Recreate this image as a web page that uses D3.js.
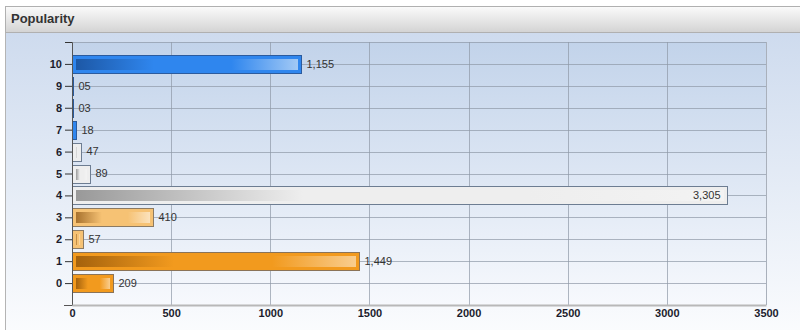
<!DOCTYPE html>
<html>
<head>
<meta charset="utf-8">
<script src="https://cdn.jsdelivr.net/npm/d3@7"></script>
<style>
  html, body { margin: 0; padding: 0; background: #ffffff; }
  svg { display: block; font-family: "Liberation Sans", Arial, sans-serif; }
</style>
</head>
<body>
<div id="chart"></div>
<script>
// Popularity counts per rating category
const categories = [0, 1, 2, 3, 4, 5, 6, 7, 8, 9, 10];
const popularity = [209, 1449, 57, 410, 3305, 89, 47, 18, 3, 5, 1155];
const xTickValues = [0, 500, 1000, 1500, 2000, 2500, 3000, 3500];
const yTickValues = [-1, 0, 1, 2, 3, 4, 5, 6, 7, 8, 9, 10, 11];
const chartTitle = "Popularity";

const W = 800, H = 330;
const plot = { left: 72, right: 766, top: 42, bottom: 305 };

// colour families for the bars
const palette = {
  blue:   { fill: "#2f86ee", stroke: "#2b5b9e", dark: "#1d58a6", light: "#a2c9f5" },
  silver: { fill: "#eeeeee", stroke: "#6d7d92", dark: "#999999", light: "#f3f3f3" },
  peach:  { fill: "#f6c274", stroke: "#8c7a62", dark: "#a8722e", light: "#fbe2bd" },
  orange: { fill: "#f29a1e", stroke: "#8a7358", dark: "#a5620c", light: "#f9cd8e" }
};
const toneOf = c => c >= 7 ? "blue" : c >= 4 ? "silver" : c >= 2 ? "peach" : "orange";

const fmt = d3.format("02,");

const svg = d3.select("#chart").append("svg")
  .attr("width", W).attr("height", H);

const defs = svg.append("defs");

function vGrad(id, top, bottom) {
  const g = defs.append("linearGradient").attr("id", id)
    .attr("x1", 0).attr("y1", 0).attr("x2", 0).attr("y2", 1);
  g.append("stop").attr("offset", 0).attr("stop-color", top);
  g.append("stop").attr("offset", 1).attr("stop-color", bottom);
}
vGrad("hdrGrad", "#fbfbfb", "#d3d3d3");
vGrad("bodyGrad", "#cedbee", "#ffffff");
vGrad("plotGrad", "#c2d3ea", "#f7f9fd");

// panel body + header
svg.append("rect").attr("x", 5.5).attr("y", 32.5).attr("width", W).attr("height", H)
  .attr("fill", "url(#bodyGrad)").attr("stroke", "#b4b4b4");
svg.append("rect").attr("x", 5.5).attr("y", 6.5).attr("width", W).attr("height", 26)
  .attr("fill", "url(#hdrGrad)").attr("stroke", "#b0b0b0");
svg.append("text").attr("x", 11).attr("y", 23)
  .attr("font-size", 13).attr("font-weight", "bold").attr("fill", "#333")
  .text(chartTitle);

const x = d3.scaleLinear().domain([0, 3500]).range([plot.left, plot.right]);
const y = d3.scaleLinear().domain([-1, 11]).range([plot.bottom, plot.top]);

// plot background
svg.append("rect")
  .attr("x", plot.left).attr("y", plot.top)
  .attr("width", plot.right - plot.left).attr("height", plot.bottom - plot.top)
  .attr("fill", "url(#plotGrad)");

// grid
const grid = svg.append("g").attr("stroke", "#8f98a6").attr("stroke-opacity", 0.7)
  .attr("shape-rendering", "crispEdges");
grid.selectAll("line.v").data(xTickValues.filter(v => v > 0)).join("line")
  .attr("class", "v")
  .attr("x1", d => Math.round(x(d)) + 0.5).attr("x2", d => Math.round(x(d)) + 0.5)
  .attr("y1", plot.top).attr("y2", plot.bottom);
grid.selectAll("line.h").data(yTickValues.filter(v => v >= 0)).join("line")
  .attr("class", "h")
  .attr("y1", d => Math.round(y(d)) + 0.5).attr("y2", d => Math.round(y(d)) + 0.5)
  .attr("x1", plot.left).attr("x2", plot.right);

// bars
const barH = 18;
const bars = svg.append("g");
categories.forEach((c, i) => {
  const v = popularity[i];
  const p = palette[toneOf(c)];
  const x0 = Math.round(x(0)) + 0.5;
  const x1 = Math.max(x0 + 1, Math.round(x(v)) + 0.5);
  const yc = y(c);
  const y0 = Math.round(yc - barH / 2) + 0.5;
  const gid = "barGrad" + i;
  const g = defs.append("linearGradient").attr("id", gid)
    .attr("x1", 0).attr("y1", 0).attr("x2", 1).attr("y2", 0);
  g.append("stop").attr("offset", 0).attr("stop-color", p.dark);
  g.append("stop").attr("offset", 0.35).attr("stop-color", p.fill);
  g.append("stop").attr("offset", 0.7).attr("stop-color", p.fill);
  g.append("stop").attr("offset", 1).attr("stop-color", p.light);

  bars.append("rect")
    .attr("x", x0).attr("y", y0)
    .attr("width", x1 - x0).attr("height", barH)
    .attr("fill", p.fill).attr("stroke", p.stroke);
  const w = x1 - x0;
  if (w > 7) {
    bars.append("rect")
      .attr("x", x0 + 3.5).attr("y", y0 + 3.5)
      .attr("width", w - 7).attr("height", barH - 7)
      .attr("fill", `url(#${gid})`);
  }

  const label = bars.append("text")
    .attr("y", yc).attr("dy", "0.35em")
    .attr("font-size", 11).attr("fill", "#333")
    .text(fmt(v));
  const tw = label.node().getComputedTextLength();
  if (x1 + 5 + tw > plot.right - 10) {
    label.attr("x", x1 - 7).attr("text-anchor", "end");
  } else {
    label.attr("x", x1 + 5);
  }
});

// axes
const yAxis = svg.append("g").attr("transform", `translate(${plot.left},0)`)
  .call(d3.axisLeft(y).tickValues(yTickValues).tickSize(7).tickPadding(3)
    .tickFormat(d => (d >= 0 && d <= 10) ? d : ""));
yAxis.select(".domain").attr("stroke", "#555");
yAxis.selectAll(".tick line").attr("stroke", "#333");
yAxis.selectAll("text").attr("font-size", 11).attr("font-weight", "bold")
  .attr("fill", "#1c1c2c").attr("font-family", "Liberation Sans, Arial, sans-serif");

const xAxis = svg.append("g").attr("transform", `translate(0,${plot.bottom})`)
  .call(d3.axisBottom(x).tickValues(xTickValues).tickSize(0).tickPadding(4)
    .tickFormat(d3.format("d")));
xAxis.select(".domain").attr("stroke", "#b8b8b8").attr("stroke-width", 2);
xAxis.selectAll("text").attr("font-size", 11).attr("font-weight", "bold")
  .attr("fill", "#1c1c2c").attr("font-family", "Liberation Sans, Arial, sans-serif");
// redraw the lowest y tick over the x domain line
svg.append("line").attr("x1", plot.left - 8).attr("x2", plot.left)
  .attr("y1", plot.bottom + 0.5).attr("y2", plot.bottom + 0.5)
  .attr("stroke", "#555");
// right plot border
svg.append("line").attr("x1", plot.right + 0.5).attr("x2", plot.right + 0.5)
  .attr("y1", plot.top).attr("y2", plot.bottom).attr("stroke", "#a9b0bb");
</script>
</body>
</html>
